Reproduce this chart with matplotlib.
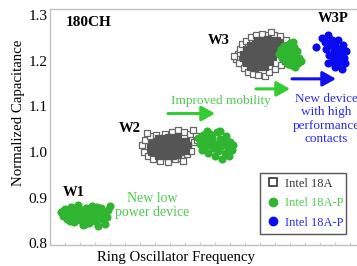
import matplotlib.pyplot as plt
from matplotlib.lines import Line2D

plt.rcParams['font.family'] = ['Liberation Serif', 'DejaVu Serif']

# W1 (18A-P low power)
w1_x = [11, 13, 15, 17, 19, 21, 22, 24, 25, 27, 28, 30, 31, 33, 34, 36, 37, 39, 40, 42,
        43, 45, 46, 48, 49, 51, 52, 54, 55, 57, 58, 60, 14, 20, 35, 47]
w1_y = [0.868, 0.860, 0.875, 0.853, 0.866, 0.880, 0.858, 0.846, 0.870, 0.862, 0.883, 0.850,
        0.873, 0.840, 0.864, 0.878, 0.855, 0.845, 0.870, 0.882, 0.860, 0.848, 0.872, 0.838,
        0.862, 0.876, 0.852, 0.866, 0.842, 0.858, 0.872, 0.882, 0.872, 0.848, 0.842, 0.880]

# W2 18A (core + edge)
w2_core_x = [108, 113, 118, 123, 128, 102, 107, 112, 117, 122, 127, 132, 136,
             100, 105, 110, 115, 120, 125, 130, 135, 138,
             101, 106, 111, 116, 121, 126, 131, 136, 108, 113, 118, 123, 128]
w2_core_y = [1.030, 1.031, 1.032, 1.033, 1.034, 1.020, 1.021, 1.020, 1.022, 1.021, 1.022, 1.023, 1.024,
             1.010, 1.011, 1.010, 1.012, 1.010, 1.011, 1.012, 1.013, 1.015,
             1.000, 1.000, 1.001, 1.000, 1.002, 1.001, 1.002, 1.003, 0.991, 0.990, 0.991, 0.992, 0.994]
w2_edge_x = [92, 94, 95, 98, 100, 103, 106, 110, 115, 118, 122, 125, 128, 131, 134, 137,
             140, 143, 146, 144, 141, 147, 97, 133]
w2_edge_y = [1.015, 1.000, 1.027, 0.990, 1.034, 0.984, 1.038, 0.980, 1.040, 0.978, 1.043, 0.984,
             1.047, 0.987, 1.044, 0.995, 1.040, 1.047, 1.035, 1.022, 1.002, 1.026, 1.042, 0.979]

# W2 18A-P
w2p_x = [148, 150, 152, 153, 155, 156, 158, 160, 160, 162, 163, 165, 166, 167, 168, 170, 171,
         172, 174, 175, 176, 178, 179, 180, 182, 183, 170, 157]
w2p_y = [1.030, 1.018, 1.005, 1.038, 1.025, 1.012, 0.998, 1.040, 1.020, 1.030, 1.008, 0.992,
         1.018, 1.043, 1.002, 1.028, 1.012, 0.985, 1.020, 0.998, 1.035, 1.010, 0.992, 1.022,
         1.005, 1.015, 1.045, 1.045]

# W3 18A (core + edge)
w3_core_x = [207, 212, 217, 222, 227, 200, 205, 210, 215, 220, 225, 230,
             196, 201, 206, 211, 216, 221, 226, 231, 193, 198, 203, 208, 213, 218, 223, 228,
             193, 198, 203, 208, 213, 218, 223, 196, 201, 206, 211, 216, 220, 200, 205, 210, 215]
w3_core_y = [1.245, 1.246, 1.247, 1.246, 1.245, 1.235, 1.236, 1.235, 1.237, 1.236, 1.237, 1.238,
             1.225, 1.226, 1.225, 1.226, 1.227, 1.226, 1.227, 1.228, 1.215, 1.215, 1.216, 1.215,
             1.216, 1.217, 1.216, 1.218, 1.205, 1.205, 1.204, 1.205, 1.206, 1.205, 1.207,
             1.195, 1.195, 1.194, 1.195, 1.196, 1.197, 1.185, 1.184, 1.185, 1.186]
w3_edge_x = [188, 186, 190, 189, 192, 194, 196, 198, 201, 203, 206, 208, 212, 215, 218, 219,
             224, 225, 230, 231, 236, 235, 238, 237, 234, 184, 221]
w3_edge_y = [1.215, 1.203, 1.226, 1.194, 1.236, 1.184, 1.243, 1.176, 1.251, 1.171, 1.256, 1.168,
             1.259, 1.166, 1.257, 1.176, 1.256, 1.182, 1.253, 1.190, 1.246, 1.200, 1.235, 1.215,
             1.222, 1.210, 1.262]

# W3 18A-P
w3p_x = [229, 231, 232, 234, 235, 236, 238, 239, 240, 241, 242, 243, 244, 245, 246, 247, 248,
         249, 251, 243, 238]
w3p_y = [1.215, 1.225, 1.205, 1.232, 1.215, 1.198, 1.225, 1.208, 1.238, 1.190, 1.218, 1.200,
         1.230, 1.185, 1.210, 1.222, 1.195, 1.205, 1.200, 1.240, 1.192]

# W3P blue 18A-P
w3b_x = [266, 272, 275, 276, 278, 279, 280, 282, 283, 284, 285, 286, 287, 288, 289, 290, 291,
         292, 293, 294, 295, 296, 285, 278]
w3b_y = [1.230, 1.250, 1.240, 1.225, 1.255, 1.212, 1.235, 1.245, 1.200, 1.222, 1.232, 1.210,
         1.190, 1.245, 1.225, 1.200, 1.215, 1.182, 1.235, 1.205, 1.195, 1.220, 1.185, 1.195]

GRAY = '#555555'
GREEN = '#2fb52f'
BLUE = '#0a0af0'
TGREEN = '#4ccc4c'
TBLUE = '#2a2af0'

fig = plt.figure(figsize=(3.57, 2.66), dpi=100)
ax = fig.add_axes([50/357, 21/266, 310/357, 236/266])

sq = dict(marker='s', s=22, linewidths=0.9)
ax.scatter(w2_edge_x, w2_edge_y, facecolor='white', edgecolor='#666666', zorder=1, **sq)
ax.scatter(w2_core_x, w2_core_y, facecolor=GRAY, edgecolor=GRAY, zorder=2, **sq)
ax.scatter(w3_edge_x, w3_edge_y, facecolor='white', edgecolor='#666666', zorder=1, **sq)
ax.scatter(w3_core_x, w3_core_y, facecolor=GRAY, edgecolor=GRAY, zorder=2, **sq)

dot = dict(marker='o', s=34, linewidths=0, zorder=3)
ax.scatter(w1_x, w1_y, color=GREEN, **dot)
ax.scatter(w2p_x, w2p_y, color=GREEN, **dot)
ax.scatter(w3p_x, w3p_y, color=GREEN, **dot)
ax.scatter(w3b_x, w3b_y, color=BLUE, **dot)

arr = dict(arrowstyle='-|>,head_length=0.8,head_width=0.45', lw=2.2, shrinkA=0, shrinkB=0)
ax.annotate('', xy=(165, 1.084), xytext=(118, 1.084), arrowprops=dict(color='#33cc33', **arr))
ax.annotate('', xy=(240, 1.138), xytext=(206, 1.138), arrowprops=dict(color='#33cc33', **arr))
ax.annotate('', xy=(286, 1.160), xytext=(242, 1.160), arrowprops=dict(color='#1111ee', **arr))

bold = dict(fontsize=10.5, fontweight='bold', ha='center', va='center')
ax.text(16, 1.283, '180CH', fontsize=11, fontweight='bold', ha='left', va='center')
ax.text(24, 0.911, 'W1', **bold)
ax.text(80, 1.052, 'W2', **bold)
ax.text(169, 1.244, 'W3', **bold)
ax.text(283, 1.293, 'W3P', **bold)

ax.text(102, 0.883, 'New low\npower device', color=TGREEN, fontsize=10,
        ha='center', va='center', linespacing=1.1)
ax.text(171, 1.112, 'Improved mobility', color=TGREEN, fontsize=9.5, ha='center', va='center')
ax.text(276, 1.072, 'New device\nwith high\nperformance\ncontacts', color=TBLUE, fontsize=9.5,
        ha='center', va='center', linespacing=1.15)

handles = [
    Line2D([], [], marker='s', ls='', mfc='white', mec='#333333', ms=6, mew=1.2),
    Line2D([], [], marker='o', ls='', color=GREEN, ms=6),
    Line2D([], [], marker='o', ls='', color=BLUE, ms=6),
]
leg = ax.legend(handles, ['Intel 18A', 'Intel 18A-P', 'Intel 18A-P'],
                labelcolor=['#333333', TGREEN, TBLUE], fontsize=9,
                loc='lower left', bbox_to_anchor=(210/310, 0.048, 86/310, 0.26),
                mode='expand', borderaxespad=0, fancybox=False, framealpha=1,
                handletextpad=0.4, handlelength=1.2, labelspacing=0.6, borderpad=0.4)
leg.get_frame().set_edgecolor('#555555')
leg.get_frame().set_linewidth(1.0)

ax.set_xlim(0, 310)
ax.set_ylim(0.796, 1.313)
ax.set_yticks([0.8, 0.9, 1.0, 1.1, 1.2, 1.3])
ax.set_yticklabels(['0.8', '0.9', '1.0', '1.1', '1.2', '1.3'])
ax.tick_params(axis='y', length=0, labelsize=11, pad=2)
ax.set_xticks(range(15, 310, 15))
ax.tick_params(axis='x', length=2.5, direction='in', color='#cccccc', labelbottom=False)
for s in ax.spines.values():
    s.set_color('#c0c0c0')
    s.set_linewidth(1.0)
ax.set_xlabel('Ring Oscillator Frequency', fontsize=10.7)
ax.xaxis.set_label_coords(126/310, -0.052, transform=ax.transAxes)
ax.xaxis.label.set_va('center')
ax.set_ylabel('Normalized Capacitance', fontsize=10.7)
ax.yaxis.set_label_coords(-0.082, 0.56, transform=ax.transAxes)

fig.savefig('out.png', dpi=100)
